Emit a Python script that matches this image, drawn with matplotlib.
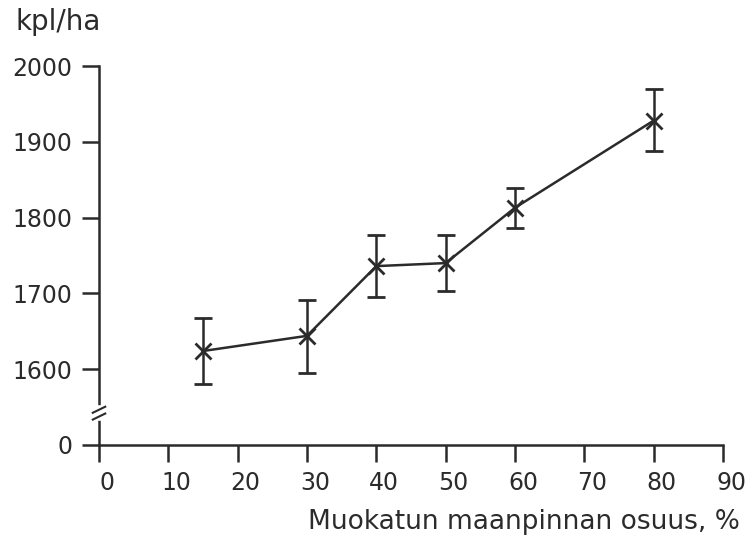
import numpy as np
import matplotlib.pyplot as plt
from matplotlib.transforms import ScaledTranslation

plt.rcParams['font.family'] = 'DejaVu Sans'
plt.rcParams['font.size'] = 16

# data
osuus = [15, 30, 40, 50, 60, 80]
kpl = [1624, 1644, 1736, 1740, 1813, 1928]
err_lo = [1580, 1595, 1695, 1703, 1786, 1888]
err_hi = [1667, 1691, 1777, 1777, 1839, 1969]
xticks = [0, 10, 20, 30, 40, 50, 60, 70, 80, 90]
yticks = [1500, 1600, 1700, 1800, 1900, 2000]
ylabels = ['0', '1600', '1700', '1800', '1900', '2000']

ink = '#2b2b2b'
fig = plt.figure(figsize=(7.49, 5.39), dpi=100)
ax = fig.add_axes([99/749, 1-445/539, 624/749, 379/539])

lo = np.array(kpl) - np.array(err_lo)
hi = np.array(err_hi) - np.array(kpl)
ax.errorbar(osuus, kpl, yerr=[lo, hi], color=ink, lw=1.8, marker='x',
            ms=12, mew=2, capsize=6.5, capthick=1.8, elinewidth=1.8, clip_on=False)

ax.set_xlim(0, 90)
ax.set_ylim(1500, 2000)
ax.set_xticks(xticks)
ax.set_yticks(yticks)
ax.set_yticklabels(ylabels)
for s in ['top', 'right']:
    ax.spines[s].set_visible(False)
for s in ['left', 'bottom']:
    ax.spines[s].set_color(ink)
    ax.spines[s].set_linewidth(1.8)
ax.tick_params(direction='out', length=12, width=1.8, color=ink,
               labelcolor=ink, pad=7, labelsize=17)
for lab in ax.get_xticklabels():
    lab.set_transform(lab.get_transform() + ScaledTranslation(8/100, 0, fig.dpi_scale_trans))

# axis break on y axis
yb = 1542
ax.plot([0, 0], [yb-7, yb+7], color='white', lw=4, clip_on=False, zorder=5)
for d in (-4.5, 4.5):
    ax.plot([-0.9, 0.9], [yb+d-4, yb+d+4], color=ink, lw=1.5, clip_on=False, zorder=6)

fig.text(15/749, 1-22/539, 'kpl/ha', color=ink, fontsize=20, va='center', ha='left')
fig.text(740/749, 1-522/539, 'Muokatun maanpinnan osuus, %', color=ink,
         fontsize=19, va='center', ha='right')

plt.savefig('out.png', dpi=100)
